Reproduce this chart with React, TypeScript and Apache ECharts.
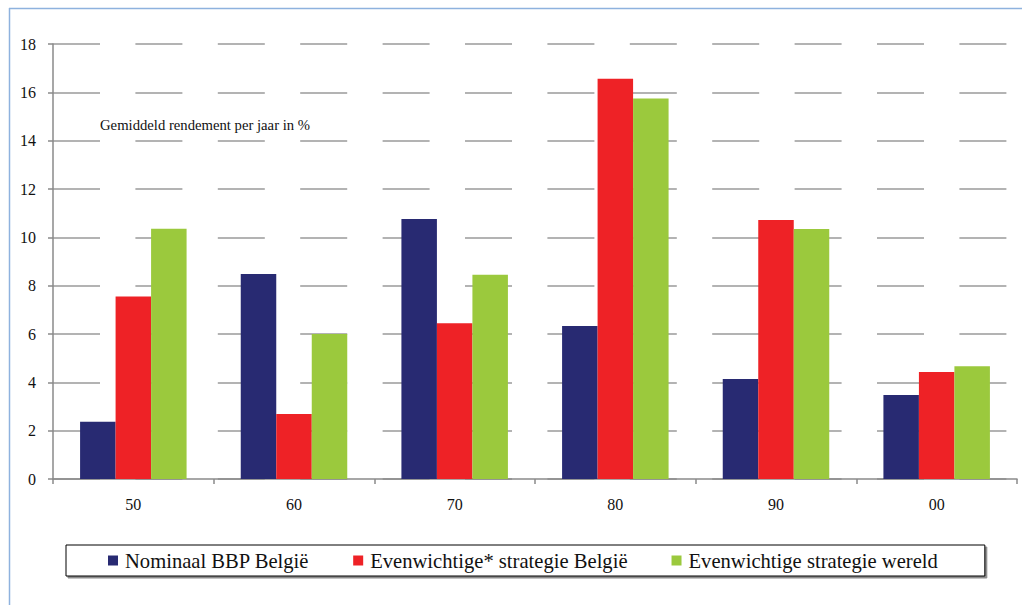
import React, { useEffect, useRef } from "react";
import * as echarts from "echarts";

const categories = ["50", "60", "70", "80", "90", "00"];
const nominaalBBP = [2.37, 8.48, 10.76, 6.33, 4.14, 3.48];
const evenwichtigBelgie = [7.55, 2.69, 6.45, 16.56, 10.72, 4.43];
const evenwichtigWereld = [10.36, 6.0, 8.45, 15.74, 10.35, 4.67];
const seriesNames = [
  "Nominaal BBP België",
  "Evenwichtige* strategie België",
  "Evenwichtige strategie wereld",
];
const colors = ["#282A72", "#EE2226", "#9BC93D"];
const FONT = "Liberation Serif";

export default function App() {
  const ref = useRef<HTMLDivElement>(null);
  useEffect(() => {
    if (!ref.current) return;
    const chart = echarts.init(ref.current, null, { renderer: "svg" });
    const data = [nominaalBBP, evenwichtigBelgie, evenwichtigWereld];
    chart.setOption({
      animation: false,
      backgroundColor: "#ffffff",
      textStyle: { fontFamily: FONT, color: "#111" },
      grid: { left: 53, right: 5, top: 44, bottom: 126, containLabel: false },
      legend: {
        bottom: 29,
        left: 66,
        data: seriesNames,
        itemWidth: 10,
        itemHeight: 10,
        itemGap: 44,
        icon: "rect",
        padding: [5, 47, 5, 42],
        borderColor: "#000",
        borderWidth: 1,
        borderRadius: 0,
        backgroundColor: "#fff",
        shadowColor: "rgba(0,0,0,0.45)",
        shadowOffsetX: 2,
        shadowOffsetY: 2,
        shadowBlur: 1,
        textStyle: { fontFamily: FONT, fontSize: 20.6, color: "#111", padding: [0, 0, 0, 2] },
      },
      xAxis: {
        type: "category",
        data: categories,
        boundaryGap: true,
        axisLine: { lineStyle: { color: "#8a8a8a", width: 1.5 } },
        axisTick: { show: true, length: 5, lineStyle: { color: "#8a8a8a", width: 1.5 } },
        axisLabel: { margin: 17, fontSize: 16, color: "#111", fontFamily: FONT },
      },
      yAxis: {
        type: "value",
        min: 0,
        max: 18,
        interval: 2,
        axisLine: { show: true, lineStyle: { color: "#8a8a8a", width: 1.5 } },
        axisTick: { show: true, length: 5, lineStyle: { color: "#8a8a8a", width: 1.5 } },
        axisLabel: { margin: 17, fontSize: 16, color: "#111", fontFamily: FONT },
        splitLine: {
          show: true,
          lineStyle: { color: "#9a9a9a", width: 1.6, type: [47, 35.4], dashOffset: 0 },
        },
      },
      graphic: [
        {
          type: "text",
          left: 100,
          top: 117,
          style: {
            text: "Gemiddeld rendement per jaar in %",
            fontFamily: FONT,
            fontSize: 14.7,
            fill: "#111",
          },
        },
        {
          type: "line",
          shape: { x1: 9, y1: 8.5, x2: 1022, y2: 8.5 },
          style: { stroke: "#8EB2DE", lineWidth: 1.5 },
        },
        {
          type: "line",
          shape: { x1: 9.5, y1: 8, x2: 9.5, y2: 605 },
          style: { stroke: "#8EB2DE", lineWidth: 1.5 },
        },
      ],
      series: data.map((d, i) => ({
        name: seriesNames[i],
        type: "bar",
        data: d,
        barWidth: 35.5,
        barGap: "0%",
        itemStyle: { color: colors[i] },
      })),
    });
    return () => chart.dispose();
  }, []);
  return (
    <div
      ref={ref}
      style={{ position: "fixed", left: 0, top: 0, width: 1022, height: 605 }}
    />
  );
}
